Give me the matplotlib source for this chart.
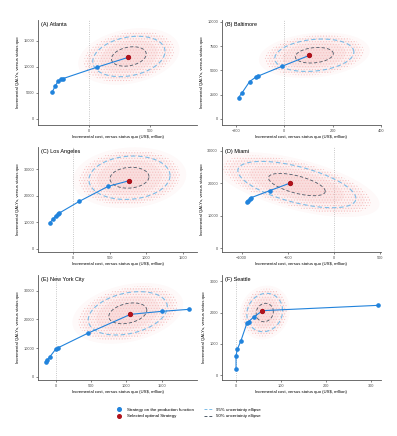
"""Cost-effectiveness production functions with uncertainty ellipses, six cities."""

import matplotlib

matplotlib.use("Agg")
import matplotlib.pyplot as plt
import numpy as np
from matplotlib.lines import Line2D

# --- data ------------------------------------------------------------------
cities = ["(A) Atlanta", "(B) Baltimore", "(C) Los Angeles", "(D) Miami", "(E) New York City", "(F) Seattle"]

# strategies on the production function (cost US$ million, QALYs)
atl_cost = [-302, -277, -255, -228, -214, 66, 321]
atl_qaly = [5240, 6400, 7240, 7700, 7760, 9960, 11840]
bal_cost = [-190, -175, -144, -119, -110, -12, 103]
bal_qaly = [2210, 2720, 3860, 4310, 4410, 5410, 6550]
la_cost = [-315, -270, -234, -203, -189, 90, 482, 757]
la_qaly = [9710, 11100, 12360, 13110, 13370, 17900, 23580, 25600]
mia_cost = [-943, -932, -914, -896, -697, -470]
mia_qaly = [14120, 14530, 15150, 15560, 17700, 20100]
nyc_cost = [-146, -127, -89, -5, 19, 447, 1058, 1500, 1890]
nyc_qaly = [5230, 5810, 6980, 9650, 10000, 15120, 21740, 22790, 23490]
sea_cost = [0, 0, 3, 11, 24, 28, 39, 59, 317]
sea_qaly = [190, 620, 830, 1100, 1650, 1710, 1850, 2060, 2230]

# index of the selected optimal strategy in each list
optimal_idx = [6, 6, 7, 5, 6, 7]

# joint cost/QALY uncertainty: centre, sd of cost, sd of QALYs, correlation
unc_center = [(325, 12000), (124, 6570), (770, 26800), (-400, 19600), (1020, 22100), (64, 2000)]
unc_sd_cost = [121, 67, 225, 262, 230, 16.3]
unc_sd_qaly = [1585, 682, 3350, 2925, 3090, 251]
unc_rho = [0.25, 0.2, 0.1, -0.6, 0.3, 0.1]

# axes
xlims = [(-420, 885), (-260, 400), (-473, 1690), (-1217, 513), (-259, 2008), (-32, 323)]
ylims = [(-1160, 19000), (-620, 10200), (-1260, 38400), (-1230, 31200), (-1160, 35460), (-160, 3200)]
xticks = [[0, 500], [-200, 0, 200, 400], [0, 500, 1000, 1500], [-1000, -500, 0, 500],
          [0, 500, 1000, 1500], [0, 100, 200, 300]]
yticks = [[0, 5000, 10000, 15000], [0, 2500, 5000, 7500, 10000], [0, 10000, 20000, 30000],
          [0, 10000, 20000, 30000], [0, 10000, 20000, 30000], [0, 1000, 2000, 3000]]

costs = [atl_cost, bal_cost, la_cost, mia_cost, nyc_cost, sea_cost]
qalys = [atl_qaly, bal_qaly, la_qaly, mia_qaly, nyc_qaly, sea_qaly]

# --- style ------------------------------------------------------------------
BLUE = "#2183DC"
RED = "#B0121B"
PINK = "#F08A8A"
E95 = "#7DBDE8"
E50 = "#4E5A68"
CHI95 = np.sqrt(5.991)
CHI50 = np.sqrt(1.386)

plt.rcParams["font.family"] = ["Liberation Sans", "DejaVu Sans"]
plt.rcParams["hatch.linewidth"] = 0.5


def ellipse_xy(center, sx, sy, rho, scale):
    t = np.linspace(0, 2 * np.pi, 200)
    cov = np.array([[sx * sx, rho * sx * sy], [rho * sx * sy, sy * sy]])
    L = np.linalg.cholesky(cov)
    pts = L @ np.vstack([np.cos(t), np.sin(t)]) * scale
    return center[0] + pts[0], center[1] + pts[1]


def draw_panel(ax, i):
    c, sx, sy, r = unc_center[i], unc_sd_cost[i], unc_sd_qaly[i], unc_rho[i]
    # pink cloud of simulation draws, shown as layered shading
    for scale, alpha in [(CHI95 * 1.4, 0.05), (CHI95 * 1.15, 0.07), (CHI95 * 0.8, 0.09), (CHI50, 0.10)]:
        ex, ey = ellipse_xy(c, sx, sy, r, scale)
        ax.fill(ex, ey, color=PINK, alpha=alpha, lw=0, zorder=1)
    ex, ey = ellipse_xy(c, sx, sy, r, CHI95 * 1.25)
    ax.fill(ex, ey, facecolor="none", edgecolor="#F6C2C2", hatch="......", lw=0, zorder=1)

    ax.axvline(0, color="#B5B5B5", ls=":", lw=0.6, zorder=0)

    ex, ey = ellipse_xy(c, sx, sy, r, CHI95)
    ax.plot(ex, ey, color=E95, ls=(0, (4, 2.5)), lw=0.8, zorder=2)
    ex, ey = ellipse_xy(c, sx, sy, r, CHI50)
    ax.plot(ex, ey, color=E50, ls=(0, (4, 2.5)), lw=0.6, zorder=2)

    x, y = costs[i], qalys[i]
    ax.plot(x, y, color=BLUE, lw=0.8, marker="o", ms=2.3, mec=BLUE, zorder=3)
    k = optimal_idx[i]
    ax.plot([x[k]], [y[k]], "o", color=RED, ms=2.8, zorder=4)

    ax.set_xlim(*xlims[i])
    ax.set_ylim(*ylims[i])
    ax.set_xticks(xticks[i])
    ax.set_yticks(yticks[i])
    for side in ["top", "right"]:
        ax.spines[side].set_visible(False)
    for side in ["left", "bottom"]:
        ax.spines[side].set_color("#555555")
        ax.spines[side].set_linewidth(0.6)
    ax.tick_params(labelsize=2.8, length=1.5, width=0.5, pad=1.2, colors="#555555", labelcolor="#4D4D4D")
    ax.set_xlabel("Incremental cost, versus status quo (US$, million)", fontsize=3.1, labelpad=1.5)
    ax.set_ylabel("Incremental QALYs, versus status quo", fontsize=3.1, labelpad=2.5)
    ax.text(0.02, 0.985, cities[i], transform=ax.transAxes, fontsize=4.0, va="top", ha="left", zorder=5)


fig = plt.figure(figsize=(3.97, 4.36), dpi=100)
col_x = [0.0957, 0.5584]
row_y = [0.7133, 0.422, 0.1284]
for i in range(6):
    ax = fig.add_axes([col_x[i % 2], row_y[i // 2], 0.401, 0.2408])
    draw_panel(ax, i)

handles = [
    Line2D([], [], ls="none", marker="o", color=BLUE, ms=2.6),
    Line2D([], [], ls="none", marker="o", color=RED, ms=2.6),
    Line2D([], [], color=E95, ls=(0, (3, 2)), lw=0.7),
    Line2D([], [], color=E50, ls=(0, (3, 2)), lw=0.7),
]
labels = ["Strategy on the production function", "Selected optimal Strategy",
          "95% uncertainty ellipse", "50% uncertainty ellipse"]
fig.legend(handles, labels, ncol=2, loc="center left", bbox_to_anchor=(0.28, 0.053),
           frameon=False, fontsize=3.15, handlelength=1.8, columnspacing=2.2,
           labelspacing=0.6, handletextpad=1.0)

fig.savefig("out.png", dpi=100)
